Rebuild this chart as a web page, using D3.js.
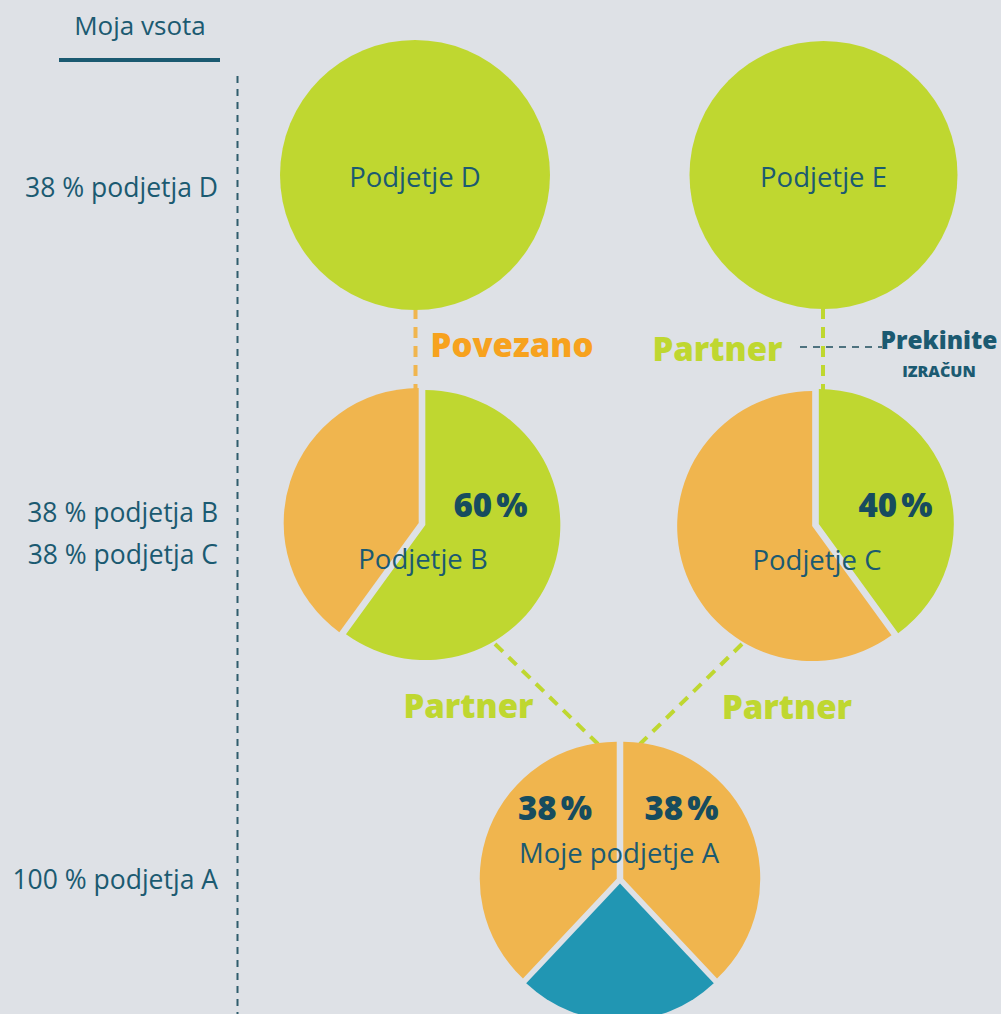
<!DOCTYPE html>
<html><head><meta charset="utf-8">
<script src="https://cdn.jsdelivr.net/npm/d3@7"></script>
<style>
html,body{margin:0;padding:0;background:#dee1e6;}
svg{display:block;font-family:"Open Sans",sans-serif;}
</style></head>
<body>
<script>
// ---- data ----
const sideTitle = "Moja vsota";
const sideLabels = ["38 % podjetja D", "38 % podjetja B", "38 % podjetja C", "100 % podjetja A"];
const circleNames = ["Podjetje D", "Podjetje E"];
const pieNames = ["Podjetje B", "Podjetje C", "Moje podjetje A"];
const pieB = [60, 40];
const pieC = [40, 60];
const pieA = [38, 24, 38];
const pctLabelsB = ["60\u202F%"];
const pctLabelsC = ["40\u202F%"];
const pctLabelsA = ["38\u202F%", "38\u202F%"];
const linkLabels = ["Povezano", "Partner", "Partner", "Partner"];
const breakLabels = ["Prekinite", "IZRAČUN"];

// ---- styles ----
const W = 1001, H = 1014;
const GREEN = "#bfd730", ORANGE = "#f0b54e", TEAL = "#2196b3";
const TXT = "#1b5a71", DARK = "#174c5e", ORTXT = "#f7a21e";

const svg = d3.select("body").append("svg").attr("width", W).attr("height", H);
svg.append("rect").attr("width", W).attr("height", H).attr("fill", "#dee1e6");

// left column
svg.append("text").attr("x", 140).attr("y", 35).attr("text-anchor", "middle")
  .attr("font-size", 26).attr("fill", TXT).text(sideTitle);
svg.append("line").attr("x1", 59).attr("x2", 220).attr("y1", 60).attr("y2", 60)
  .attr("stroke", TXT).attr("stroke-width", 4);
svg.append("line").attr("x1", 237.5).attr("x2", 237.5).attr("y1", 76).attr("y2", H)
  .attr("stroke", "#2f5d6c").attr("stroke-width", 2).attr("stroke-dasharray", "7,6");
const sideY = [197, 522, 564, 889];
svg.selectAll("text.side").data(sideLabels).join("text").attr("class", "side")
  .attr("x", 218).attr("y", (d, i) => sideY[i]).attr("text-anchor", "end")
  .attr("font-size", 26.5).attr("fill", TXT).text(d => d);

// connectors
const links = [
  {x1: 415.5, y1: 308, x2: 415.5, y2: 392, c: "#f0b54e"},
  {x1: 823, y1: 308, x2: 823, y2: 392, c: GREEN},
  {x1: 495, y1: 644, x2: 598, y2: 744, c: GREEN},
  {x1: 742, y1: 644, x2: 640, y2: 744, c: GREEN}
];
svg.selectAll("line.link").data(links).join("line").attr("class", "link")
  .attr("x1", d => d.x1).attr("y1", d => d.y1).attr("x2", d => d.x2).attr("y2", d => d.y2)
  .attr("stroke", d => d.c).attr("stroke-width", 4).attr("stroke-dasharray", "11,8");
svg.append("line").attr("x1", 800).attr("x2", 882).attr("y1", 347).attr("y2", 347)
  .attr("stroke", "#1f4e5e").attr("stroke-width", 1.6).attr("stroke-dasharray", "7,6");

// full circles
const circles = [{cx: 415, cy: 175, r: 135}, {cx: 823.5, cy: 175, r: 134}];
circles.forEach((c, i) => {
  svg.append("circle").attr("cx", c.cx).attr("cy", c.cy).attr("r", c.r).attr("fill", GREEN);
  svg.append("text").attr("x", c.cx).attr("y", c.cy + 12).attr("text-anchor", "middle")
    .attr("font-size", 27.5).attr("fill", TXT).text(circleNames[i]);
});

// pies
const pie = d3.pie().sort(null).value(d => d);
function drawPie(vals, colors, cx, cy, r, off) {
  const g = svg.append("g").attr("transform", `translate(${cx},${cy})`);
  const arc = d3.arc().innerRadius(0).outerRadius(r);
  g.selectAll("path").data(pie(vals)).join("path")
    .attr("d", arc).attr("fill", (d, i) => colors[i])
    .attr("transform", d => {
      const a = (d.startAngle + d.endAngle) / 2;
      return `translate(${off * Math.sin(a)},${-off * Math.cos(a)})`;
    });
  return g;
}
drawPie(pieB, [GREEN, ORANGE], 422, 524, 135, 3.5);
drawPie(pieC, [GREEN, ORANGE], 815.5, 525, 135, 3.5);
drawPie(pieA, [ORANGE, TEAL, ORANGE], 620, 880, 137, 3.5);

// pie texts
const nameText = [{x: 423, y: 569}, {x: 817, y: 570}, {x: 619, y: 863}];
pieNames.forEach((n, i) => {
  svg.append("text").attr("x", nameText[i].x).attr("y", nameText[i].y).attr("text-anchor", "middle")
    .attr("font-size", 27.5).attr("fill", TXT).text(n);
});
const pct = [
  {t: pctLabelsB[0], x: 490.5, y: 517},
  {t: pctLabelsC[0], x: 895.5, y: 517},
  {t: pctLabelsA[0], x: 555, y: 820},
  {t: pctLabelsA[1], x: 681.5, y: 820}
];
svg.selectAll("text.pct").data(pct).join("text").attr("class", "pct")
  .attr("x", d => d.x).attr("y", d => d.y).attr("text-anchor", "middle")
  .attr("font-size", 33).attr("font-weight", 800).attr("letter-spacing", 1).attr("fill", DARK).text(d => d.t);

// link labels
const ll = [
  {x: 512, y: 357, c: ORTXT},
  {x: 717.5, y: 361, c: GREEN},
  {x: 468.5, y: 718, c: GREEN},
  {x: 787, y: 719, c: GREEN}
];
svg.selectAll("text.ll").data(linkLabels).join("text").attr("class", "ll")
  .attr("x", (d, i) => ll[i].x).attr("y", (d, i) => ll[i].y).attr("text-anchor", "middle")
  .attr("font-size", 33).attr("font-weight", 800).attr("fill", (d, i) => ll[i].c).text(d => d);

svg.append("text").attr("x", 939).attr("y", 349).attr("text-anchor", "middle")
  .attr("font-size", 24.5).attr("font-weight", 800).attr("fill", TXT).text(breakLabels[0]);
svg.append("text").attr("x", 939).attr("y", 377).attr("text-anchor", "middle")
  .attr("font-size", 16).attr("font-weight", 800).attr("fill", TXT).text(breakLabels[1]);
</script>
</body></html>
